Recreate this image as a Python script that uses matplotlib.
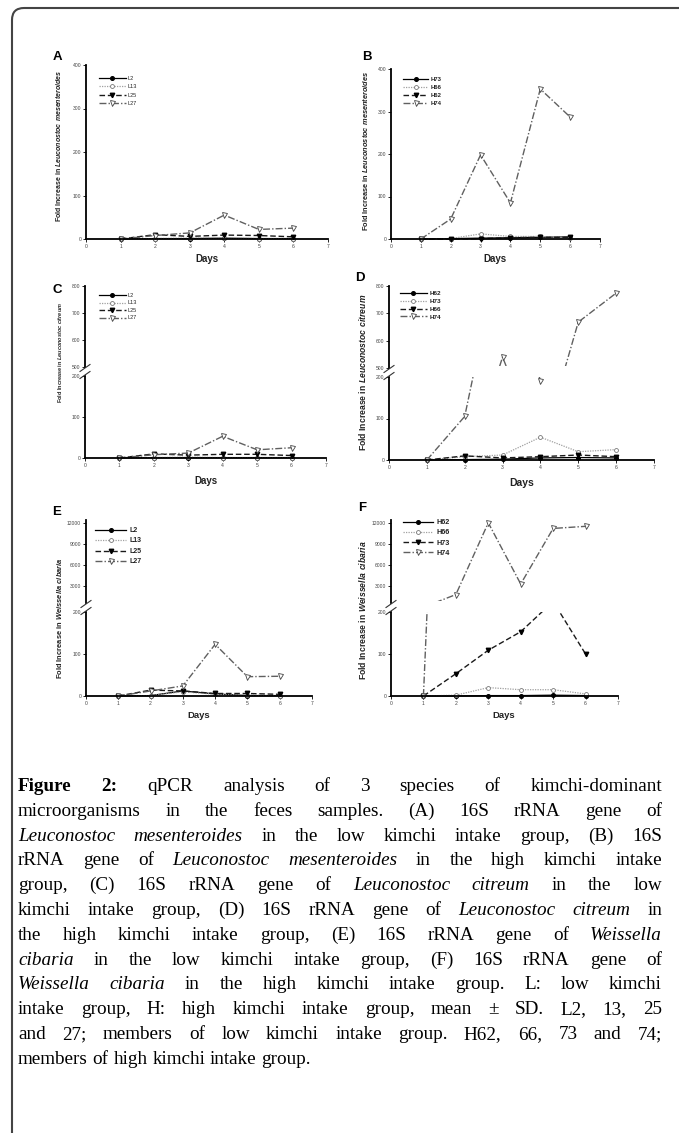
import numpy as np
import matplotlib
matplotlib.use('Agg')
import matplotlib.pyplot as plt
from matplotlib.patches import FancyBboxPatch, Rectangle
from matplotlib.lines import Line2D
from matplotlib.transforms import IdentityTransform

W, H = 679, 1133
plt.rcParams['font.family'] = ['Liberation Sans', 'DejaVu Sans']
plt.rcParams['mathtext.fontset'] = 'custom'
plt.rcParams['mathtext.bfit'] = 'Liberation Sans:italic:bold'

days = [1, 2, 3, 4, 5, 6]

# A: L. mesenteroides, low intake
a_names = ['L2', 'L13', 'L25', 'L27']
a_L2 = [0, 1, 1, 2, 1, 1]
a_L13 = [0, 1, 2, 2, 1, 1]
a_L25 = [0, 10, 6, 9, 8, 5]
a_L27 = [0, 8, 14, 55, 22, 25]

# B: L. mesenteroides, high intake
b_names = ['H73', 'H66', 'H62', 'H74']
b_H73 = [0, 1, 2, 3, 4, 5]
b_H66 = [0, 1, 12, 6, 6, 3]
b_H62 = [0, 0, 1, 3, 4, 4]
b_H74 = [0, 47, 198, 85, 353, 287]

# C: L. citreum, low intake
c_names = ['L2', 'L13', 'L25', 'L27']
c_L2 = [0, 1, 1, 1, 1, 1]
c_L13 = [0, 1, 2, 1, 1, 1]
c_L25 = [0, 10, 7, 9, 9, 6]
c_L27 = [0, 8, 12, 53, 20, 25]

# D: L. citreum, high intake
d_names = ['H62', 'H73', 'H66', 'H74']
d_H62 = [0, 1, 2, 5, 6, 5]
d_H73 = [0, 8, 12, 55, 20, 25]
d_H66 = [0, 10, 5, 8, 12, 8]
d_H74 = [0, 105, 540, 190, 668, 774]

# E: W. cibaria, low intake
e_names = ['L2', 'L13', 'L25', 'L27']
e_L2 = [0, 1, 12, 5, 1, 1]
e_L13 = [0, 1, 10, 4, 2, 1]
e_L25 = [0, 14, 12, 6, 6, 4]
e_L27 = [0, 12, 24, 123, 46, 47]

# F: W. cibaria, high intake
f_names = ['H62', 'H66', 'H73', 'H74']
f_H62 = [0, 0, 1, 1, 2, 1]
f_H66 = [0, 2, 20, 15, 15, 5]
f_H73 = [0, 53, 109, 153, 225, 100]
f_H74 = [0, 1800, 12000, 3300, 11200, 11500]

styles = [
    dict(color='black', ls='-', lw=0.9, marker='o', ms=2.6, mfc='black', mec='black'),
    dict(color='#a0a0a0', ls=(0, (1, 1)), lw=0.9, marker='o', ms=2.8, mfc='white', mec='#777777', mew=0.6),
    dict(color='#1a1a1a', ls=(0, (4, 2)), lw=1.0, marker='v', ms=3.2, mfc='black', mec='black'),
    dict(color='#606060', ls=(0, (5, 1.5, 1, 1.5)), lw=1.0, marker='v', ms=3.6, mfc='white', mec='#444444', mew=0.6),
]

fig = plt.figure(figsize=(W / 100, H / 100), dpi=100)
PX = IdentityTransform()


def box(x0, y0, x1, y1):
    return fig.add_axes([x0 / W, 1 - y1 / H, (x1 - x0) / W, (y1 - y0) / H])


def style(ax, bottom=True):
    for s in ['top', 'right']:
        ax.spines[s].set_visible(False)
    ax.spines['left'].set_linewidth(1.3)
    ax.spines['bottom'].set_linewidth(1.3)
    ax.tick_params(direction='out', length=2, width=0.6, labelsize=3.6,
                   labelcolor='#444444', pad=1.5)
    ax.set_xlim(0, 7)
    ax.set_xticks(range(8))
    ax.patch.set_alpha(0)
    if not bottom:
        ax.spines['bottom'].set_visible(False)
        ax.tick_params(axis='x', bottom=False, labelbottom=False)


def draw(ax, series, lo=-0.1, hi=1.1):
    for vals, st in zip(series, styles):
        ln, = ax.plot(days, vals, **st)
        ln.set_clip_path(Rectangle((0, lo), 1, hi - lo, transform=ax.transAxes))


def legend(ax, names, x, y, fs, bold, hl, sp):
    hs = [Line2D([], [], **st) for st in styles]
    lg = ax.legend(hs, names, loc='upper left', bbox_to_anchor=(x / W, 1 - y / H),
                   bbox_transform=fig.transFigure, frameon=False, fontsize=fs,
                   handlelength=hl, labelspacing=sp, handletextpad=0.4,
                   borderaxespad=0, borderpad=0)
    for t in lg.get_texts():
        t.set_color('#222222')
        if bold:
            t.set_fontweight('bold')


def breakmarks(xa, y1, y2):
    for yy in (y1, y2):
        fig.add_artist(Line2D([xa - 5, xa + 5], [H - yy - 3.5, H - yy + 3.5],
                              transform=PX, color='#333333', lw=0.8))


def single(rect, series, names, leg):
    ax = box(*rect)
    style(ax)
    ax.set_ylim(0, 400)
    ax.set_yticks([0, 100, 200, 300, 400])
    draw(ax, series)
    legend(ax, names, *leg)
    return ax


def broken(x0, x1, top, bot, tlim, tticks, series, names, leg):
    axt = box(x0, top[0], x1, top[1])
    style(axt, bottom=False)
    axt.set_ylim(*tlim)
    axt.set_yticks(tticks)
    draw(axt, series, lo=0.03, hi=1.1)
    axb = box(x0, bot[0], x1, bot[1])
    style(axb)
    axb.set_ylim(0, 200)
    axb.set_yticks([0, 100, 200])
    draw(axb, series, lo=-0.1, hi=1.0)
    legend(axt, names, *leg)
    breakmarks(x0, top[1] + 1, bot[0] - 1)
    return axt, axb


single((86, 65, 328, 239), [a_L2, a_L13, a_L25, a_L27], a_names,
       (99, 76, 4.0, False, 4.8, 0.6))
single((391, 69, 600, 239), [b_H73, b_H66, b_H62, b_H74], b_names,
       (403, 77, 4.3, True, 4.2, 0.45))
broken(85, 326, (286, 367), (376, 458), (500, 800), [500, 600, 700, 800],
       [c_L2, c_L13, c_L25, c_L27], c_names, (99, 293, 4.0, False, 4.8, 0.45))
broken(389, 654, (286, 368), (377, 460), (500, 800), [500, 600, 700, 800],
       [d_H62, d_H73, d_H66, d_H74], d_names, (400, 291, 4.6, True, 4.2, 0.35))
upper = (600, 12400)
broken(86, 312, (520, 603), (612, 696), upper, [3000, 6000, 9000, 12000],
       [e_L2, e_L13, e_L25, e_L27], e_names, (95, 527, 5.0, True, 4.5, 0.5))
broken(391, 618, (520, 603), (612, 696), upper, [3000, 6000, 9000, 12000],
       [f_H62, f_H66, f_H73, f_H74], f_names, (403, 519, 5.2, True, 4.2, 0.45))

# panel letters
for lab, x, y in [('A', 57, 57), ('B', 367, 57), ('C', 57, 290),
                  ('D', 360, 278), ('E', 57, 512), ('F', 362, 508)]:
    fig.text(x, H - y, lab, transform=PX, fontsize=9.5, fontweight='bold',
             ha='center', va='center')

# x labels
for x, y, fs in [(207, 259, 7), (495, 259, 7), (206, 481, 7),
                 (522, 483, 7.5), (199, 716, 6.8), (504, 715, 6.8)]:
    fig.text(x, H - y, 'Days', transform=PX, fontsize=fs, fontweight='bold',
             ha='center', va='center', color='#222222')

# y labels
ylabs = [
    (59, 146, 5.0, r'Fold Increase in $\mathbfit{Leuconostoc\ mesenteroides}$'),
    (365, 151, 5.3, r'Fold Increase in $\mathbfit{Leuconostoc\ mesenteroides}$'),
    (60, 352, 4.0, r'Fold Increase in $\mathbfit{Leuconostoc\ citreum}$'),
    (362, 372, 6.2, r'Fold Increase in $\mathbfit{Leuconostoc\ citreum}$'),
    (59, 618, 5.4, r'Fold Increase in $\mathbfit{Weissella\ cibaria}$'),
    (362, 610, 6.2, r'Fold Increase in $\mathbfit{Weissella\ cibaria}$'),
]
for x, y, fs, s in ylabs:
    fig.text(x, H - y, s, transform=PX, fontsize=fs, fontweight='bold',
             rotation=90, ha='center', va='center', color='#222222')

# outer frame
fig.add_artist(FancyBboxPatch((12, -40), 720, H - 8 + 40, transform=PX,
                              boxstyle='round,pad=0,rounding_size=12',
                              fc='none', ec='#444444', lw=1.5))

# caption, justified
cap_lines = [
    "^Figure ^2: qPCR analysis of 3 species of kimchi-dominant",
    "microorganisms in the feces samples. (A) 16S rRNA gene of",
    "_Leuconostoc _mesenteroides in the low kimchi intake group, (B) 16S",
    "rRNA gene of _Leuconostoc _mesenteroides in the high kimchi intake",
    "group, (C) 16S rRNA gene of _Leuconostoc _citreum in the low",
    "kimchi intake group, (D) 16S rRNA gene of _Leuconostoc _citreum in",
    "the high kimchi intake group, (E) 16S rRNA gene of _Weissella",
    "_cibaria in the low kimchi intake group, (F) 16S rRNA gene of",
    "_Weissella _cibaria in the high kimchi intake group. L: low kimchi",
    "intake group, H: high kimchi intake group, mean \u00b1 SD. L2, 13, 25",
    "and 27; members of low kimchi intake group. H62, 66, 73 and 74;",
    "members of high kimchi intake group.",
]
renderer = fig.canvas.get_renderer()
left, right = 18, 662
base0, step = 791, 24.8
fs_cap = 13.8
for i, line in enumerate(cap_lines):
    texts = []
    for w in line.split(' '):
        st, wt = 'normal', 'normal'
        if w.startswith('_'):
            w, st = w[1:], 'italic'
        elif w.startswith('^'):
            w, wt = w[1:], 'bold'
        t = fig.text(0, 0, w, transform=PX, fontsize=fs_cap, family='Liberation Serif',
                     style=st, fontweight=wt, va='baseline', ha='left')
        texts.append(t)
    widths = [t.get_window_extent(renderer).width for t in texts]
    if i < len(cap_lines) - 1:
        gap = (right - left - sum(widths)) / (len(widths) - 1)
    else:
        gap = fs_cap * 100 / 72 * 0.25
    x = left
    y = H - (base0 + i * step)
    for t, w in zip(texts, widths):
        t.set_position((x, y))
        x += w + gap

fig.savefig('out.png', dpi=100)
